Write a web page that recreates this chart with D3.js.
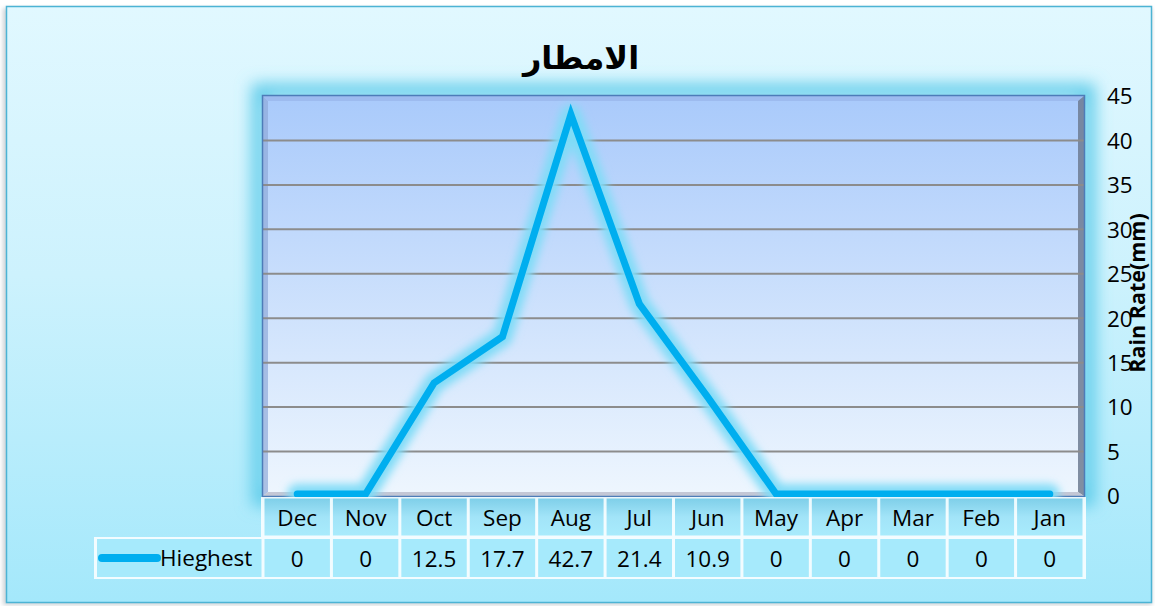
<!DOCTYPE html>
<html>
<head>
<meta charset="utf-8">
<script src="https://cdn.jsdelivr.net/npm/d3@7"></script>
<style>
  html, body { margin: 0; padding: 0; background: #ffffff; }
  svg { display: block; }
</style>
</head>
<body>
<script>
// Monthly highest rainfall (mm)
const months = ["Dec", "Nov", "Oct", "Sep", "Aug", "Jul", "Jun", "May", "Apr", "Mar", "Feb", "Jan"];
const highest = [0, 0, 12.5, 17.7, 42.7, 21.4, 10.9, 0, 0, 0, 0, 0];
const yTicks = [0, 5, 10, 15, 20, 25, 30, 35, 40, 45];
const seriesName = "Hieghest";
const chartTitle = "الامطار";
const yTitle = "Rain Rate(mm)";

const W = 1155, H = 606;
const plot = { left: 263, right: 1084, top: 96, bottom: 496 };
const font = "'Open Sans', Lato, sans-serif";
const fs = 22.5;

const svg = d3.select("body").append("svg").attr("width", W).attr("height", H);
const defs = svg.append("defs");

const bgGrad = defs.append("linearGradient").attr("id", "bgGrad").attr("x1", 0).attr("y1", 0).attr("x2", 0).attr("y2", 1);
bgGrad.append("stop").attr("offset", "0").attr("stop-color", "#e1f8ff");
bgGrad.append("stop").attr("offset", "0.45").attr("stop-color", "#cdf2fd");
bgGrad.append("stop").attr("offset", "1").attr("stop-color", "#a4e8fb");

const plotGrad = defs.append("linearGradient").attr("id", "plotGrad").attr("x1", 0).attr("y1", 0).attr("x2", 0).attr("y2", 1);
plotGrad.append("stop").attr("offset", "0").attr("stop-color", "#a9cafb");
plotGrad.append("stop").attr("offset", "1").attr("stop-color", "#eef6fe");

const headGrad = defs.append("linearGradient").attr("id", "headGrad").attr("x1", 0).attr("y1", 0).attr("x2", 0).attr("y2", 1);
headGrad.append("stop").attr("offset", "0").attr("stop-color", "#7fcfe9");
headGrad.append("stop").attr("offset", "0.5").attr("stop-color", "#a2e4f8");
headGrad.append("stop").attr("offset", "1").attr("stop-color", "#a8ebfc");

const glow = defs.append("filter").attr("id", "glow").attr("x", "-10%").attr("y", "-10%").attr("width", "120%").attr("height", "120%");
glow.append("feGaussianBlur").attr("stdDeviation", 8);

const lineGlow = defs.append("filter").attr("id", "lineGlow").attr("x", "-10%").attr("y", "-10%").attr("width", "120%").attr("height", "120%");
lineGlow.append("feGaussianBlur").attr("stdDeviation", 4);

const shadow = defs.append("filter").attr("id", "shadow").attr("x", "-5%").attr("y", "-5%").attr("width", "110%").attr("height", "110%");
shadow.append("feGaussianBlur").attr("stdDeviation", 2);

// Chart background with frame
svg.append("rect").attr("x", 3).attr("y", 8).attr("width", 1149).attr("height", 597)
  .attr("fill", "#9aa6ad").attr("opacity", 0.5).attr("filter", "url(#shadow)");
svg.append("rect").attr("x", 6.5).attr("y", 6.5).attr("width", 1145).attr("height", 596)
  .attr("fill", "url(#bgGrad)").attr("stroke", "#4cb3d4").attr("stroke-width", 1.5);

// Scales
const x = d3.scaleBand().domain(months).range([plot.left, plot.right]).padding(0);
const y = d3.scaleLinear().domain([0, 45]).range([plot.bottom, plot.top]);
const cx = d => x(d) + x.bandwidth() / 2;

// Plot area glow and panel
svg.append("rect").attr("x", plot.left - 4).attr("y", plot.top - 5).attr("width", plot.right - plot.left + 8).attr("height", plot.bottom - plot.top + 8)
  .attr("fill", "none").attr("stroke", "#5ccbe9").attr("stroke-width", 14).attr("filter", "url(#glow)");
svg.append("rect").attr("x", plot.left).attr("y", plot.top).attr("width", plot.right - plot.left).attr("height", plot.bottom - plot.top)
  .attr("fill", "url(#plotGrad)");

// Bevel edges of the panel
svg.append("path")
  .attr("d", `M${plot.left},${plot.top} L${plot.left + 5},${plot.top + 5} L${plot.left + 5},${plot.bottom - 4} L${plot.left},${plot.bottom}Z`)
  .attr("fill", "#8ea9d9").attr("opacity", 0.7);
svg.append("path")
  .attr("d", `M${plot.left},${plot.top} L${plot.right},${plot.top} L${plot.right - 6},${plot.top + 5} L${plot.left + 5},${plot.top + 5}Z`)
  .attr("fill", "#9ab6ec").attr("opacity", 0.8);
svg.append("path")
  .attr("d", `M${plot.right},${plot.top} L${plot.right},${plot.bottom} L${plot.right - 6},${plot.bottom - 4} L${plot.right - 6},${plot.top + 5}Z`)
  .attr("fill", "#6d7b92").attr("opacity", 0.85);
svg.append("path")
  .attr("d", `M${plot.left},${plot.bottom} L${plot.right},${plot.bottom} L${plot.right - 6},${plot.bottom - 4} L${plot.left + 5},${plot.bottom - 4}Z`)
  .attr("fill", "#b8bccb").attr("opacity", 0.8);

// Gridlines
svg.append("g").selectAll("line").data(yTicks.filter(t => t > 0 && t < 45)).join("line")
  .attr("x1", plot.left).attr("x2", plot.right)
  .attr("y1", d => y(d)).attr("y2", d => y(d))
  .attr("stroke", "#8c8c8c").attr("stroke-width", 2);

// Panel border
svg.append("rect").attr("x", plot.left - 0.5).attr("y", plot.top - 0.5).attr("width", plot.right - plot.left + 1).attr("height", plot.bottom - plot.top + 1)
  .attr("fill", "none").attr("stroke", "#4d7cb8").attr("stroke-width", 1.5);

// Y axis on the right
const yAxis = d3.axisRight(y).tickValues(yTicks).tickSize(0).tickPadding(0);
const gy = svg.append("g").attr("transform", `translate(1107,0)`).call(yAxis);
gy.select(".domain").remove();
gy.selectAll("text").attr("font-family", font).attr("font-size", fs).attr("fill", "#000").attr("dy", "0.35em");

svg.append("text")
  .attr("transform", `translate(1145,293) rotate(-90)`)
  .attr("text-anchor", "middle")
  .attr("font-family", font).attr("font-weight", "bold").attr("font-size", 21.5)
  .attr("fill", "#000").text(yTitle);

// Title
svg.append("text").attr("x", 581).attr("y", 69).attr("text-anchor", "middle")
  .attr("font-family", "'DejaVu Sans', sans-serif").attr("font-weight", "bold").attr("font-size", 32)
  .attr("fill", "#000").text(chartTitle);

// Data line with glow
const line = d3.line().x((d, i) => cx(months[i])).y(d => y(d) - 2).curve(d3.curveLinear);
svg.append("path").datum(highest).attr("d", line)
  .attr("fill", "none").attr("stroke", "#80dcf7").attr("stroke-width", 20)
  .attr("stroke-linejoin", "round").attr("stroke-linecap", "round").attr("filter", "url(#lineGlow)");
svg.append("path").datum(highest).attr("d", line)
  .attr("fill", "none").attr("stroke", "#00aeef").attr("stroke-width", 7)
  .attr("stroke-linejoin", "miter").attr("stroke-linecap", "round");

// Data table
const headTop = 497, headBot = 537, rowBot = 579, legendLeft = 94;
svg.append("rect").attr("x", plot.left - 2).attr("y", headTop).attr("width", plot.right - plot.left + 4).attr("height", headBot - headTop)
  .attr("fill", "#ffffff").attr("opacity", 0.85);
svg.append("rect").attr("x", legendLeft).attr("y", headBot).attr("width", plot.right + 2 - legendLeft).attr("height", rowBot - headBot)
  .attr("fill", "#ffffff").attr("opacity", 0.85);

svg.append("g").selectAll("rect").data(months).join("rect")
  .attr("x", d => x(d) + 1.5).attr("y", headTop + 1.5)
  .attr("width", x.bandwidth() - 3).attr("height", headBot - headTop - 3)
  .attr("fill", "url(#headGrad)");
svg.append("g").selectAll("rect").data(months).join("rect")
  .attr("x", d => x(d) + 1.5).attr("y", headBot + 2)
  .attr("width", x.bandwidth() - 3).attr("height", rowBot - headBot - 4)
  .attr("fill", "#a6eafc");
svg.append("rect").attr("x", legendLeft + 3).attr("y", headBot + 2)
  .attr("width", plot.left - legendLeft - 4.5).attr("height", rowBot - headBot - 4)
  .attr("fill", "#a6eafc");

svg.append("g").selectAll("text").data(months).join("text")
  .attr("x", d => cx(d)).attr("y", (headTop + headBot) / 2 + 1).attr("dy", "0.35em")
  .attr("text-anchor", "middle").attr("font-family", font).attr("font-size", fs).attr("fill", "#000")
  .text(d => d);
svg.append("g").selectAll("text").data(highest).join("text")
  .attr("x", (d, i) => cx(months[i])).attr("y", (headBot + rowBot) / 2 + 1).attr("dy", "0.35em")
  .attr("text-anchor", "middle").attr("font-family", font).attr("font-size", fs).attr("fill", "#000")
  .text(d => d);

// Legend key in the table
svg.append("line").attr("x1", 102).attr("x2", 157).attr("y1", 558).attr("y2", 558)
  .attr("stroke", "#00aeef").attr("stroke-width", 8).attr("stroke-linecap", "round");
svg.append("text").attr("x", 160).attr("y", 558).attr("dy", "0.35em")
  .attr("font-family", font).attr("font-size", fs).attr("fill", "#000").text(seriesName);
</script>
</body>
</html>
